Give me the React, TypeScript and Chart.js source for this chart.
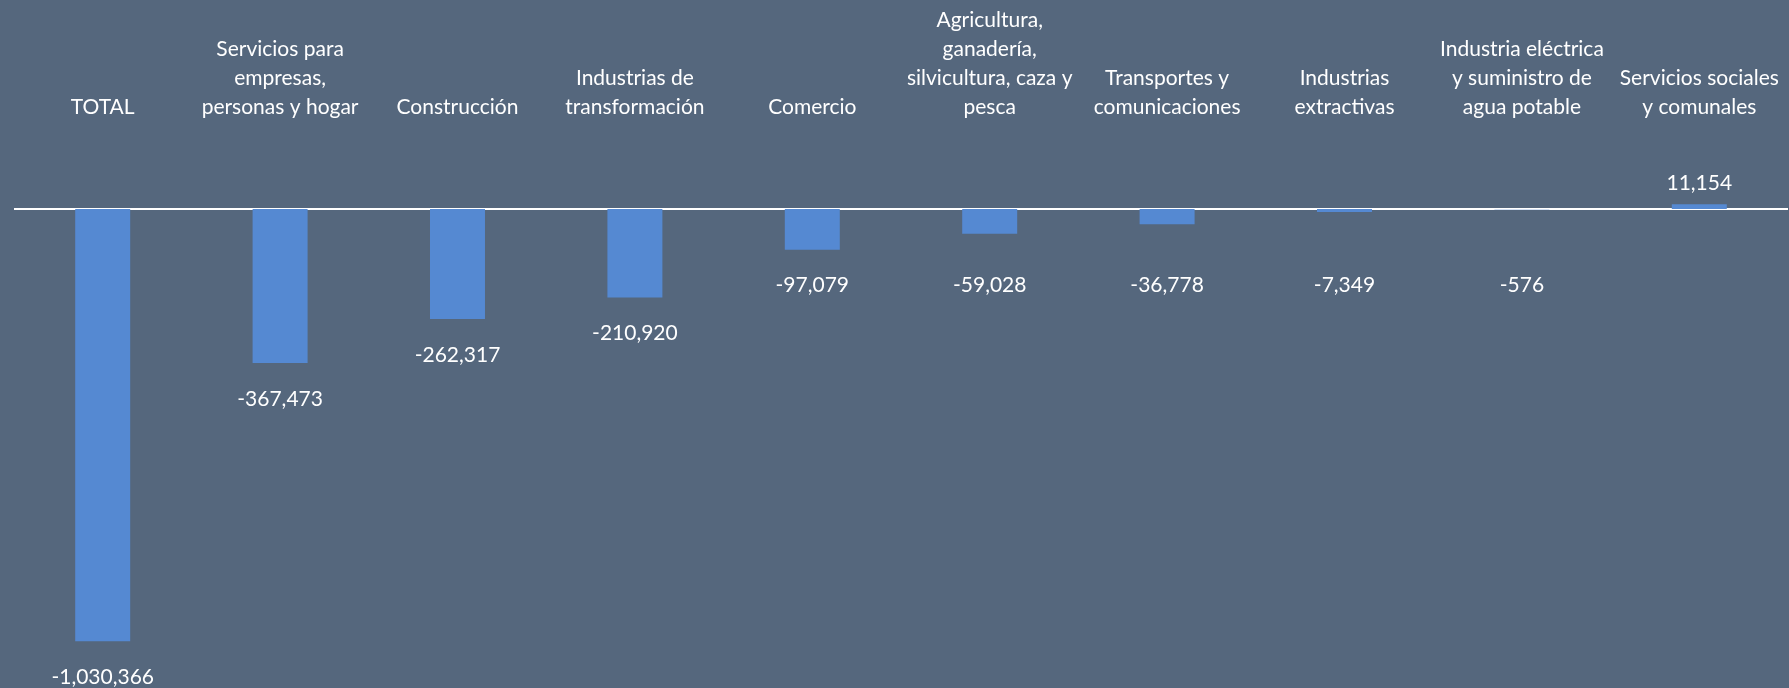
import React, { useEffect, useRef } from "react";
import { Chart, registerables } from "chart.js";

Chart.register(...registerables);

const categories: string[][] = [
  ["TOTAL"],
  ["Servicios para", "empresas,", "personas y hogar"],
  ["Construcción"],
  ["Industrias de", "transformación"],
  ["Comercio"],
  ["Agricultura,", "ganadería,", "silvicultura, caza y", "pesca"],
  ["Transportes y", "comunicaciones"],
  ["Industrias", "extractivas"],
  ["Industria eléctrica", "y suministro de", "agua potable"],
  ["Servicios sociales", "y comunales"],
];

const values: number[] = [
  -1030366, -367473, -262317, -210920, -97079, -59028, -36778, -7349, -576, 11154,
];

const BG = "#55677D";
const BAR = "#5589D2";
const FONT = "Lato, 'Open Sans', sans-serif";

const valueLabels = {
  id: "valueLabels",
  afterDatasetsDraw(chart: any) {
    const ctx = chart.ctx;
    const meta = chart.getDatasetMeta(0);
    const yScale = chart.scales.y;
    const zero = yScale.getPixelForValue(0);
    ctx.save();
    ctx.fillStyle = "#ffffff";
    ctx.font = `21px ${FONT}`;
    ctx.textAlign = "center";
    ctx.textBaseline = "middle";
    meta.data.forEach((el: any, i: number) => {
      const v = values[i];
      const txt = v.toLocaleString("en-US");
      let y: number;
      if (v < 0) {
        y = Math.max(el.y + 36, zero + 76);
      } else {
        y = el.y - 21;
      }
      ctx.fillText(txt, el.x, y);
    });
    ctx.restore();
  },
};

const zeroLine = {
  id: "zeroLine",
  beforeDatasetsDraw(chart: any) {
    const ctx = chart.ctx;
    const y = chart.scales.y.getPixelForValue(0);
    ctx.save();
    ctx.strokeStyle = "#ffffff";
    ctx.lineWidth = 2;
    ctx.beginPath();
    ctx.moveTo(chart.chartArea.left, y);
    ctx.lineTo(chart.chartArea.right, y);
    ctx.stroke();
    ctx.restore();
  },
};

export default function App() {
  const ref = useRef<HTMLCanvasElement | null>(null);
  useEffect(() => {
    if (!ref.current) return;
    const chart = new Chart(ref.current, {
      type: "bar",
      data: {
        labels: categories,
        datasets: [
          {
            data: values,
            backgroundColor: BAR,
            borderWidth: 0,
            barPercentage: 0.31,
            categoryPercentage: 1,
          },
        ],
      },
      options: {
        animation: false,
        responsive: false,
        maintainAspectRatio: false,
        devicePixelRatio: 1,
        layout: { padding: { left: 14, right: 1, top: 0, bottom: 0 } },
        plugins: {
          legend: { display: false },
          tooltip: { enabled: false },
          title: { display: false },
        },
        scales: {
          x: {
            position: "top",
            grid: { display: false, drawTicks: false },
            border: { display: false },
            ticks: {
              color: "#ffffff",
              font: { family: FONT, size: 21, lineHeight: 1.38 },
              padding: 24,
              maxRotation: 0,
              minRotation: 0,
              autoSkip: false,
            },
            afterFit: (s: any) => {
              s.height = 146;
              s.paddingLeft = 0;
              s.paddingRight = 0;
            },
          },
          y: {
            display: false,
            min: -1142000,
            max: 150000,
          },
        },
      },
      plugins: [zeroLine, valueLabels],
    });
    return () => chart.destroy();
  }, []);
  return (
    <div
      style={{
        position: "fixed",
        left: 0,
        top: 0,
        width: 1789,
        height: 688,
        background: BG,
        overflow: "hidden",
      }}
    >
      <canvas ref={ref} width={1789} height={688} style={{ display: "block", width: 1789, height: 688 }} />
    </div>
  );
}
